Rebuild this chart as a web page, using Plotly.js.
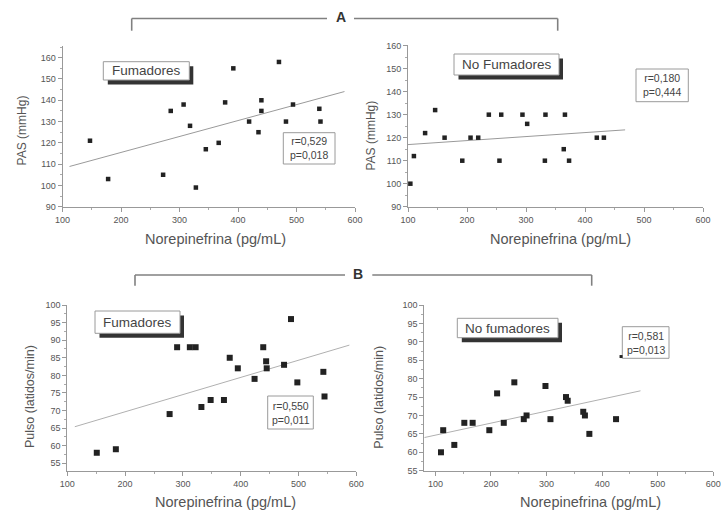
<!DOCTYPE html>
<html>
<head>
<meta charset="utf-8">
<script src="https://cdn.plot.ly/plotly-3.0.1.min.js"></script>
<style>html,body{margin:0;padding:0;background:#fff;}#chart{width:728px;height:513px;}</style>
</head>
<body>
<div id="chart"></div>
<script>
// ---------- DATA ----------
// Panel A – PAS (mmHg) vs Norepinefrina (pg/mL)
var smkNE_PAS = [147, 178, 272, 285, 307, 318, 328, 345, 367, 378, 392, 419, 435, 440, 440, 470, 482, 494, 539, 541];
var smkPAS    = [121, 103, 105, 135, 138, 128,  99, 117, 120, 139, 155, 130, 125, 135, 140, 158, 130, 138, 136, 130];
var nonNE_PAS = [104, 110, 129, 146, 162, 192, 206, 219, 237, 255, 258, 294, 302, 332, 333, 364, 366, 373, 420, 432];
var nonPAS    = [100, 112, 122, 132, 120, 110, 120, 120, 130, 110, 130, 130, 126, 110, 130, 115, 130, 110, 120, 120];
// Panel B – Pulso (latidos/min) vs Norepinefrina (pg/mL)
var smkNE_Pulse = [151, 184, 277, 290, 312, 322, 332, 348, 371, 381, 395, 424, 439, 444, 445, 475, 487, 498, 543, 545];
var smkPulse    = [ 58,  59,  69,  88,  88,  88,  71,  73,  73,  85,  82,  79,  88,  84,  82,  83,  96,  78,  81,  74];
var nonNE_Pulse = [110, 114, 134, 152, 167, 197, 211, 223, 242, 259, 264, 298, 307, 335, 338, 366, 369, 377, 425];
var nonPulse    = [ 60,  66,  62,  68,  68,  66,  76,  68,  79,  69,  70,  78,  69,  75,  74,  71,  70,  65,  69];
var nonNE_PulseSmall = [434];
var nonPulseSmall    = [86];
// Regression lines (end points)
var fitSmkPAS_x = [112, 582],  fitSmkPAS_y = [108.9, 144.1];
var fitNonPAS_x = [100, 468],  fitNonPAS_y = [117.0, 123.4];
var fitSmkPulse_x = [113, 588], fitSmkPulse_y = [65.4, 88.6];
var fitNonPulse_x = [80, 469],  fitNonPulse_y = [64.0, 76.7];
// Tick labels
var neTicks = [100, 200, 300, 400, 500, 600];
var pasTicks = [90, 100, 110, 120, 130, 140, 150, 160];
var pulseTicks = [55, 60, 65, 70, 75, 80, 85, 90, 95, 100];
// Texts
var groupLabels = ["Fumadores", "No Fumadores", "Fumadores", "No fumadores"];
var statTexts = ["r=0,529<br>p=0,018", "r=0,180<br>p=0,444", "r=0,550<br>p=0,011", "r=0,581<br>p=0,013"];
var xTitle = "Norepinefrina (pg/mL)";
var yTitlePAS = "PAS (mmHg)";
var yTitlePulse = "Pulso (latidos/min)";
var panelLetters = ["A", "B"];

// ---------- LAYOUT HELPERS ----------
var W = 728, H = 513;
function fx(p){ return p / W; }
function fy(p){ return 1 - p / H; }
var FONT = "Liberation Sans, Arial, sans-serif";

function scatter(x, y, ax, size){
  return {x:x, y:y, xaxis:'x'+ax, yaxis:'y'+ax, type:'scatter', mode:'markers',
    marker:{symbol:'square', size:size, color:'#222'}, hoverinfo:'skip', showlegend:false, cliponaxis:false};
}
function fitLine(x, y, ax, color){
  return {x:x, y:y, xaxis:'x'+ax, yaxis:'y'+ax, type:'scatter', mode:'lines',
    line:{color:color, width:1}, hoverinfo:'skip', showlegend:false};
}

var data = [
  fitLine(fitSmkPAS_x, fitSmkPAS_y, '', '#9a9a9a'),
  scatter(smkNE_PAS, smkPAS, '', 4.5),
  fitLine(fitNonPAS_x, fitNonPAS_y, '2', '#9a9a9a'),
  scatter(nonNE_PAS, nonPAS, '2', 4.5),
  fitLine(fitSmkPulse_x, fitSmkPulse_y, '3', '#b0b0b0'),
  scatter(smkNE_Pulse, smkPulse, '3', 6),
  fitLine(fitNonPulse_x, fitNonPulse_y, '4', '#b0b0b0'),
  scatter(nonNE_Pulse, nonPulse, '4', 6),
  scatter(nonNE_PulseSmall, nonPulseSmall, '4', 3)
];

function xAx(d0, d1, r, anchor){
  return {domain:[fx(d0), fx(d1)], range:r, anchor:anchor, tickvals:neTicks,
    showline:true, linecolor:'#999', linewidth:1, ticks:'outside', ticklen:4, tickcolor:'#999',
    showgrid:false, zeroline:false, tickfont:{family:FONT, size:9, color:'#555'},
    minor:{ticks:'outside', ticklen:2, tickcolor:'#aaa', dtick:50, tick0:100, showgrid:false}};
}
function yAx(top, bottom, r, ticks, minorStep, anchor){
  return {domain:[fy(bottom), fy(top)], range:r, anchor:anchor, tickvals:ticks,
    showline:true, linecolor:'#999', linewidth:1, ticks:'outside', ticklen:4, tickcolor:'#999',
    showgrid:false, zeroline:false, tickfont:{family:FONT, size:9, color:'#555'},
    minor:{ticks:'outside', ticklen:2, tickcolor:'#aaa', dtick:minorStep, tick0:ticks[0], showgrid:false}};
}

var shapes = [], annotations = [];
function rect(x0, y0, x1, y1, fill, lineColor, lw){
  shapes.push({type:'rect', xref:'paper', yref:'paper', layer:'below', x0:fx(x0), x1:fx(x1), y0:fy(y1), y1:fy(y0),
    fillcolor:fill, line:{color:lineColor, width:lw}});
}
function seg(x0, y0, x1, y1){
  shapes.push({type:'line', xref:'paper', yref:'paper', x0:fx(x0), x1:fx(x1), y0:fy(y0), y1:fy(y1),
    line:{color:'#808080', width:1.6}});
}
function text(t, x, y, size, opts){
  var a = {text:t, x:fx(x), y:fy(y), xref:'paper', yref:'paper', showarrow:false,
    xanchor:'center', yanchor:'middle', font:{family:FONT, size:size, color:'#444'}};
  for (var k in opts) a[k] = opts[k];
  annotations.push(a);
}

// group label boxes with drop shadow
var labelBoxes = [[103.3, 61.7, 189.3, 80], [454, 54, 559, 75], [95, 311, 180, 333.3], [457.3, 318.3, 558, 337.7]];
labelBoxes.forEach(function(b, i){
  rect(b[0] + 4.5, b[1] + 4.5, b[2] + 4, b[3] + 4.5, '#333', 'rgba(0,0,0,0)', 0);
  rect(b[0], b[1], b[2], b[3], '#fff', '#9a9a9a', 1);
  text(groupLabels[i], (b[0] + b[2]) / 2, (b[1] + b[3]) / 2, 13.5, {});
});
// stats boxes
var statBoxes = [[283.3, 132.7, 335, 164], [636, 69, 688.3, 101.7], [267.7, 396, 313.3, 429], [622.3, 326.7, 669, 358.3]];
statBoxes.forEach(function(b, i){
  rect(b[0], b[1], b[2], b[3], '#fff', '#9a9a9a', 1);
  text(statTexts[i], (b[0] + b[2]) / 2, (b[1] + b[3]) / 2, 10.5, {});
});
// brackets
seg(131.7, 30.7, 131.7, 18.5); seg(131.7, 18.5, 327, 18.5);
seg(354, 18.5, 557.7, 18.5);   seg(557.7, 18.5, 557.7, 30.7);
seg(135, 285.7, 135, 275);     seg(135, 275, 345, 275);
seg(372.3, 275, 591.7, 275);   seg(591.7, 275, 591.7, 285.7);
text(panelLetters[0], 340.5, 17.5, 14, {font:{family:FONT, size:14, color:'#333', weight:'bold'}});
text(panelLetters[1], 357.5, 273.5, 14, {font:{family:FONT, size:14, color:'#333', weight:'bold'}});
// axis titles
var tf = function(s){ return {family:FONT, size:s, color:'#555'}; };
text(xTitle, 215.5, 239.3, 14.5, {font:tf(14.5)});
text(xTitle, 560.7, 239.3, 14.5, {font:tf(14.5)});
text(xTitle, 225.5, 502.3, 14.5, {font:tf(14.5)});
text(xTitle, 590, 502.3, 14.5, {font:tf(14.5)});
text(yTitlePAS, 21.7, 130.7, 12, {font:tf(12), textangle:-90});
text(yTitlePAS, 370.5, 136, 12, {font:tf(12), textangle:-90});
text(yTitlePulse, 30, 397, 12.5, {font:tf(12.5), textangle:-90});
text(yTitlePulse, 379, 397.7, 12.5, {font:tf(12.5), textangle:-90});

var layout = {
  width:W, height:H, margin:{l:0, r:0, t:0, b:0}, paper_bgcolor:'#fff', plot_bgcolor:'rgba(0,0,0,0)',
  showlegend:false, font:{family:FONT},
  xaxis:  xAx(62.5, 355, [100, 600], 'y'),
  yaxis:  yAx(46, 206.7, [90, 165.5], pasTicks, 5, 'x'),
  xaxis2: xAx(408, 703, [100, 600], 'y2'),
  yaxis2: yAx(44.5, 206.7, [90, 160.5], pasTicks, 5, 'x2'),
  xaxis3: xAx(67.3, 356.3, [100, 600], 'y3'),
  yaxis3: yAx(305, 470.7, [52.9, 100], pulseTicks, 2.5, 'x3'),
  xaxis4: xAx(424.3, 713.3, [80, 600], 'y4'),
  yaxis4: yAx(305, 470.7, [55, 100], pulseTicks, 2.5, 'x4'),
  shapes:shapes, annotations:annotations
};

Plotly.newPlot('chart', data, layout, {staticPlot:true, displayModeBar:false});
</script>
</body>
</html>
